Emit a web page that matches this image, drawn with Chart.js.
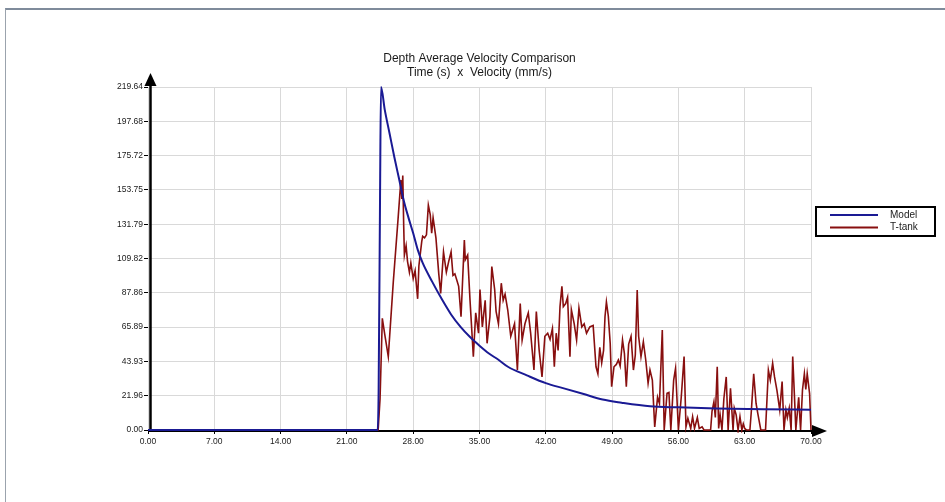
<!DOCTYPE html>
<html>
<head>
<meta charset="utf-8">
<title>Depth Average Velocity Comparison</title>
<script src="https://cdn.jsdelivr.net/npm/chart.js@4.4.0/dist/chart.umd.min.js"></script>
<style>
    html, body {margin: 0; padding: 0; background: #fff;}
    #wrap {position: relative; width: 945px; height: 502px; overflow: hidden;}
    #frame {position: absolute; left: 5px; top: 8px; right: -10px; bottom: -10px;
        border-top: 2px solid #7f8b9b; border-left: 1px solid #9ba3ad;}
    canvas {position: absolute; left: 0; top: 0;}
</style>
</head>
<body>
<div id="wrap">
    <div id="frame"></div>
    <canvas id="velocity" width="945" height="502"></canvas>
</div>
<script>
const titleLines = ["Depth Average Velocity Comparison", "Time (s)  x  Velocity (mm/s)"]

const xTickValues = [0, 7, 14, 21, 28, 35, 42, 49, 56, 63, 70]
const xTickLabels = ["0.00", "7.00", "14.00", "21.00", "28.00", "35.00", "42.00", "49.00", "56.00", "63.00", "70.00"]
const yTickValues = [0, 21.96, 43.93, 65.89, 87.86, 109.82, 131.79, 153.75, 175.72, 197.68, 219.64]
const yTickLabels = ["0.00", "21.96", "43.93", "65.89", "87.86", "109.82", "131.79", "153.75", "175.72", "197.68", "219.64"]

// Model (s, mm/s)
const modelTime = [0, 24.25, 24.35, 24.5, 24.6, 25, 25.5, 26, 26.5, 27, 27.5, 28, 28.5, 29, 30, 31, 32, 33, 34, 35,
    36, 37, 38, 40, 42, 44, 46, 48, 50, 53, 56, 60, 65, 70]
const modelVel = [0, 0, 25, 150, 219.64, 205, 190, 175, 161, 147, 136, 126, 115, 107, 95, 84, 74, 66, 59.5, 54,
    49, 45, 40.5, 35, 30, 26.5, 23, 19.5, 17.5, 15.2, 14.5, 13.8, 13.3, 13]

// T-tank (s, mm/s)
const tankTime = [0, 24.3, 24.5, 24.74, 25.0, 25.37, 25.9, 26.4, 26.7, 26.8, 26.9, 27.0, 27.07, 27.25, 27.4, 27.6,
    27.75, 28.0, 28.2, 28.47, 28.6, 28.9, 29.0, 29.2, 29.4, 29.6, 29.8, 29.95, 30.1, 30.4, 30.7, 30.9, 31.2, 31.5,
    31.75, 32.0, 32.2, 32.4, 32.6, 32.8, 33.05, 33.4, 33.5, 33.75, 34.0, 34.35, 34.6, 34.9, 35.05, 35.3, 35.6, 35.8,
    36.1, 36.3, 36.6, 36.75, 37.0, 37.3, 37.5, 37.7, 37.98, 38.3, 38.7, 39.0, 39.3, 39.5, 39.8, 40.15, 40.4, 40.75,
    41.0, 41.3, 41.6, 41.9, 42.2, 42.45, 42.7, 42.9, 43.1, 43.3, 43.5, 43.7, 43.85, 44.1, 44.3, 44.55, 44.7, 45.0,
    45.25, 45.5, 45.8, 46.05, 46.3, 46.65, 47.0, 47.3, 47.5, 47.7, 47.9, 48.1, 48.25, 48.4, 48.6, 48.8, 48.95, 49.2,
    49.45, 49.66, 49.85, 50.1, 50.3, 50.5, 50.75, 51.0, 51.25, 51.45, 51.65, 51.8, 52.05, 52.3, 52.55, 52.8, 53.0,
    53.25, 53.5, 53.8, 54.0, 54.3, 54.5, 54.8, 55.0, 55.2, 55.5, 55.7, 56.0, 56.3, 56.6, 56.8, 57.0, 57.3, 57.5,
    57.7, 58.0, 58.2, 58.5, 58.7, 59.4, 59.55, 59.75, 59.9, 60.1, 60.25, 60.4, 60.6, 60.8, 61.05, 61.25, 61.5, 61.77,
    61.9, 62.1, 62.3, 62.5, 62.7, 62.85, 63.0, 63.2, 63.55, 63.7, 63.95, 64.2, 64.4, 64.7, 65.2, 65.5, 65.7, 65.95,
    66.15, 66.4, 66.7, 66.95, 67.15, 67.35, 67.5, 67.7, 67.9, 68.07, 68.25, 68.4, 68.7, 68.9, 69.1, 69.3, 69.45,
    69.6, 69.85, 70.0]
const tankVel = [0, 0, 20, 71.5, 61, 47, 95, 135, 160, 148, 163, 130, 112, 118, 108, 101,
    107, 97, 102, 84, 105, 120.6, 124, 123, 125, 144, 138, 126, 136, 123, 100, 87.5, 114, 101,
    108, 114, 99, 100, 96, 92, 72.5, 121.7, 109, 112, 83, 47, 75, 62, 90, 66, 83, 55.5,
    72.5, 104.6, 90, 76, 68, 94, 83, 87, 77, 60, 68, 38.4, 81, 57.6, 68, 75, 62, 38.4,
    75.8, 51, 34, 60, 62, 58, 65, 40.5, 62, 51, 79, 92, 79, 81, 85, 47, 77, 68,
    57.6, 78, 66, 68, 62, 66, 67, 40.5, 36, 53, 43, 51, 72.5, 82, 73, 55.5, 27.7, 40.5,
    42, 44.8, 41, 57.6, 49, 27.7, 55, 60, 38.4, 48, 89.6, 60, 47, 56.5, 45, 30, 38.4,
    32, 2, 21, 17, 64, 0, 23.5, 24, 0, 32, 39.5, 0, 21, 47, 2, 7.5, 1, 8.5,
    1, 8, 1, 2, 0, 0, 12, 18, 8, 40.5, 1, 10, 0, 20, 34, 0, 26.7, 0,
    14, 9.6, 0, 8.5, 0, 4, 1, 0, 0, 12, 36, 17, 10, 0, 0, 38.4, 32, 42.7,
    34, 25.6, 12.8, 31, 0, 12.8, 8, 14, 0, 47, 22, 0, 21, 0, 25.6, 36, 26,
    36, 23.5, 0]

const modelColor = "#1a1a94"
const tankColor = "#880f0f"

const toPoints = (xs, ys) => xs.map((x, i) => ({x: x, y: ys[i]}))

// black axes with arrow heads, like the original plot
const axisArrows = {
    id: "axisArrows",
    beforeDatasetsDraw(chart) {
        const {ctx, chartArea} = chart
        const x0 = chartArea.left + 2.5
        const y0 = chartArea.bottom + 1
        ctx.save()
        ctx.strokeStyle = "#000"
        ctx.fillStyle = "#000"
        ctx.lineWidth = 2.5
        ctx.beginPath()
        ctx.moveTo(x0, y0)
        ctx.lineTo(x0, chartArea.top - 4)
        ctx.stroke()
        ctx.lineWidth = 2
        ctx.beginPath()
        ctx.moveTo(chartArea.left, y0)
        ctx.lineTo(chartArea.right + 4, y0)
        ctx.stroke()
        ctx.beginPath()
        ctx.moveTo(x0 - 6, chartArea.top - 1)
        ctx.lineTo(x0, chartArea.top - 14)
        ctx.lineTo(x0 + 6, chartArea.top - 1)
        ctx.closePath()
        ctx.fill()
        ctx.beginPath()
        ctx.moveTo(chartArea.right + 1, y0 - 6)
        ctx.lineTo(chartArea.right + 16, y0)
        ctx.lineTo(chartArea.right + 1, y0 + 6)
        ctx.closePath()
        ctx.fill()
        ctx.restore()
    }
}

// boxed legend to the right of the plot
const boxLegend = {
    id: "boxLegend",
    afterDraw(chart) {
        const {ctx, chartArea} = chart
        const left = chartArea.right + 5
        const top = 207
        ctx.save()
        ctx.strokeStyle = "#000"
        ctx.lineWidth = 2
        ctx.strokeRect(left, top, 119, 29)
        ctx.font = "10px 'Liberation Sans', Arial, sans-serif"
        ctx.textBaseline = "middle"
        ctx.fillStyle = "#222"
        chart.data.datasets.forEach((ds, i) => {
            const y = top + 8 + i * 12.5
            ctx.strokeStyle = ds.borderColor
            ctx.lineWidth = 2
            ctx.beginPath()
            ctx.moveTo(left + 14, y)
            ctx.lineTo(left + 62, y)
            ctx.stroke()
            ctx.fillText(ds.label, left + 74, y)
        })
        ctx.restore()
    }
}

const tickFont = {family: "'Liberation Sans', Arial, sans-serif", size: 8.5}

new Chart(document.getElementById("velocity"), {
    type: "line",
    data: {
        datasets: [
            {
                label: "Model",
                data: toPoints(modelTime, modelVel),
                borderColor: modelColor,
                borderWidth: 2,
                pointRadius: 0,
                cubicInterpolationMode: "monotone",
                clip: 3
            },
            {
                label: "T-tank",
                data: toPoints(tankTime, tankVel),
                borderColor: tankColor,
                borderWidth: 1.6,
                pointRadius: 0,
                tension: 0,
                clip: 3
            }
        ]
    },
    options: {
        responsive: false,
        animation: false,
        layout: {padding: {left: 100, right: 134, top: 0, bottom: 52}},
        plugins: {
            legend: {display: false},
            tooltip: {enabled: false},
            title: {
                display: true,
                fullSize: false,
                text: titleLines,
                color: "#1a1a1a",
                font: {family: "'Liberation Sans', Arial, sans-serif", size: 12, weight: "normal", lineHeight: 1.1},
                padding: {top: 52.4, bottom: 8.2}
            }
        },
        scales: {
            x: {
                type: "linear",
                min: 0,
                max: 70,
                afterFit: (scale) => { scale.height = 20 },
                afterBuildTicks: (scale) => { scale.ticks = xTickValues.map(v => ({value: v})) },
                ticks: {
                    autoSkip: false,
                    maxRotation: 0,
                    padding: 3,
                    color: "#1a1a1a",
                    font: tickFont,
                    callback: (v, i) => xTickLabels[i]
                },
                grid: {color: "#d9d9d9", tickColor: "#000", tickLength: 4},
                border: {display: false}
            },
            y: {
                type: "linear",
                min: 0,
                max: 219.64,
                afterFit: (scale) => { scale.width = 48 },
                afterBuildTicks: (scale) => { scale.ticks = yTickValues.map(v => ({value: v})) },
                ticks: {
                    autoSkip: false,
                    padding: 1,
                    color: "#1a1a1a",
                    font: tickFont,
                    callback: (v, i) => yTickLabels[i]
                },
                grid: {color: "#d9d9d9", tickColor: "#000", tickLength: 4},
                border: {display: false}
            }
        }
    },
    plugins: [axisArrows, boxLegend]
})
</script>
</body>
</html>
